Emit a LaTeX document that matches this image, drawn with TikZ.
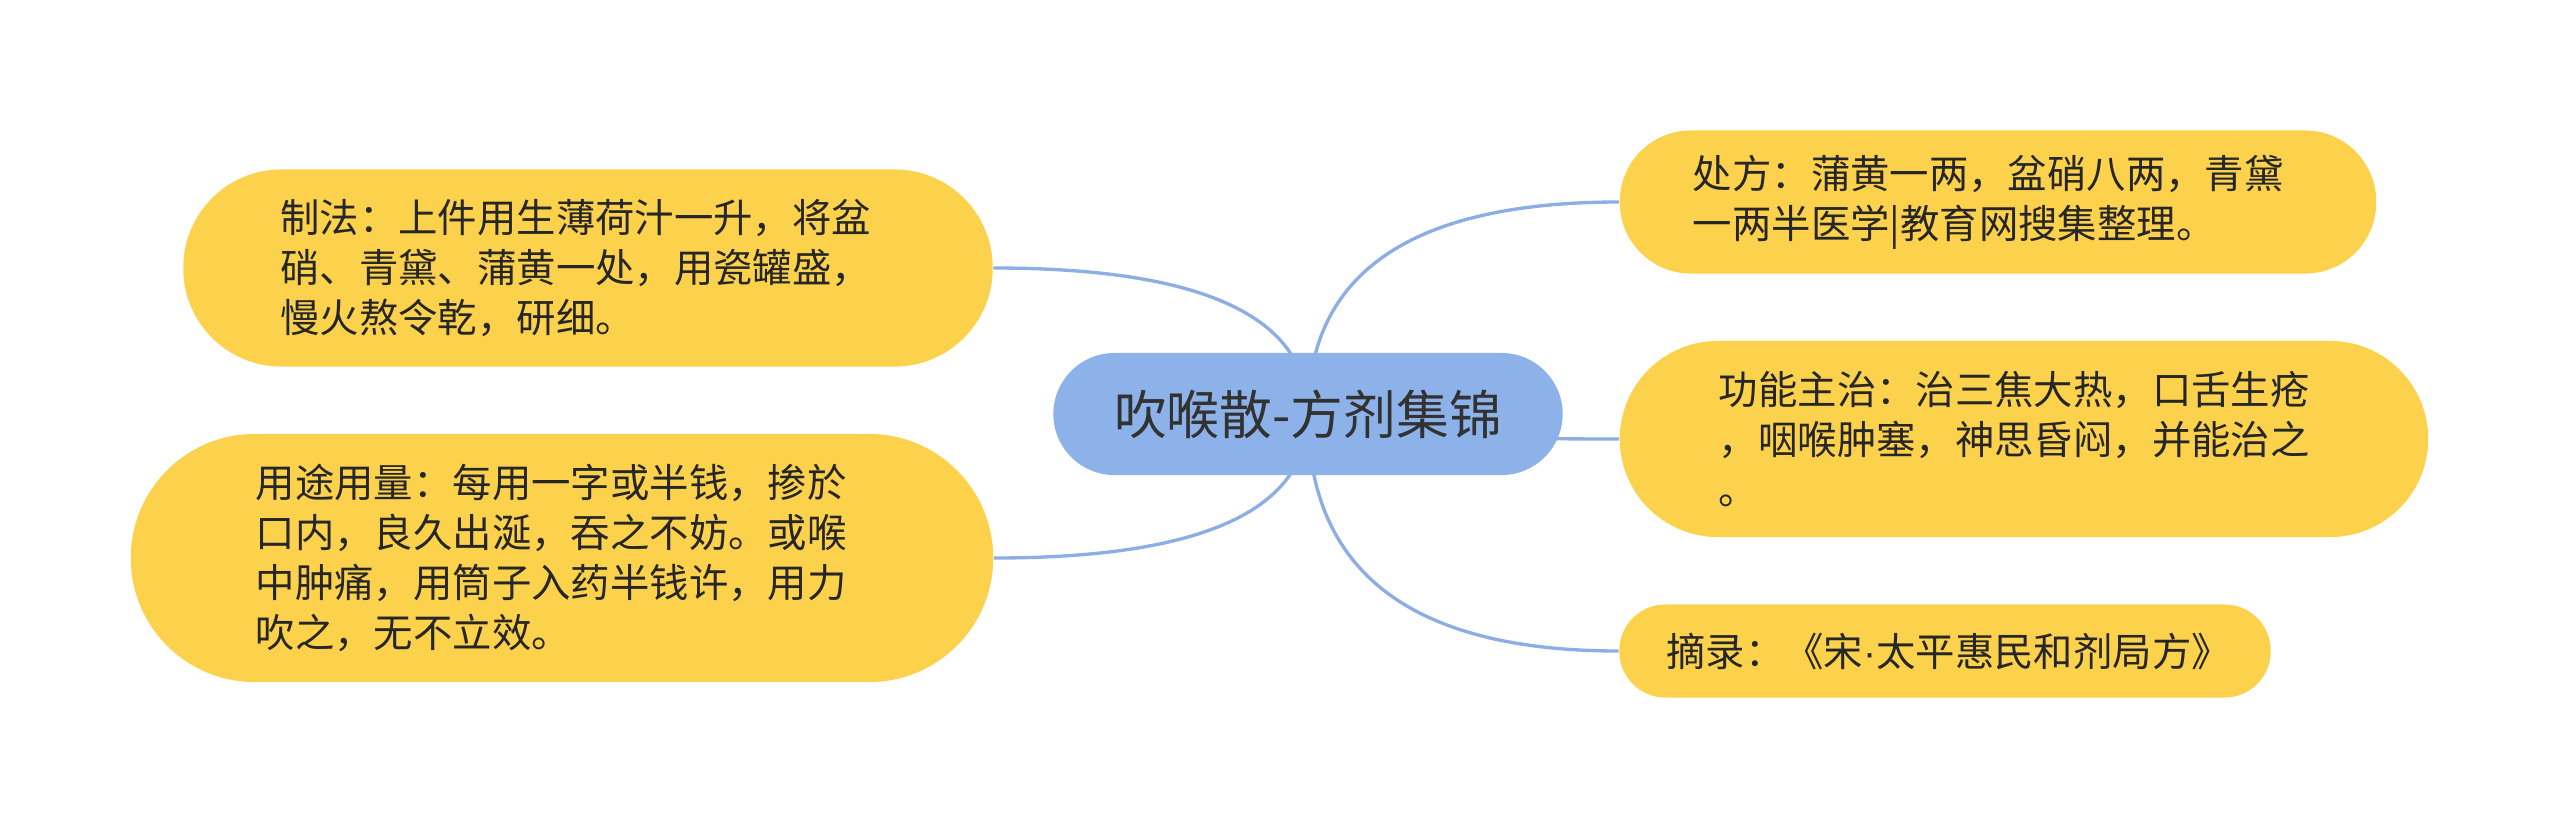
\documentclass[tikz,border=0pt]{standalone}
\usepackage{fontspec}
\newfontfamily\cjk{Noto Sans CJK SC}
\newfontfamily\latinsans{Liberation Sans}
\usepackage{tikz}
\usetikzlibrary{calc}
\definecolor{leafyellow}{RGB}{252,210,77}
\definecolor{coreblue}{RGB}{141,178,234}
\definecolor{linkblue}{RGB}{140,174,228}
\definecolor{inkgray}{RGB}{38,38,38}
\definecolor{titlegray}{RGB}{50,50,50}
\pgfdeclarelayer{paper}
\pgfdeclarelayer{links}
\pgfsetlayers{paper,links,main}

\begin{document}
\begin{tikzpicture}[
  x=0.01cm, y=-0.01cm,
  every node/.style={align=left},
  base/.style  = {fill=leafyellow, text=inkgray, inner ysep=0pt,
                  font=\cjk\fontsize{11.2pt}{14.2pt}\selectfont},
  core/.style  = {base, fill=coreblue, text=titlegray, align=center, inner sep=0pt,
                  minimum width=5.09cm, minimum height=1.22cm, rounded corners=0.61cm,
                  font=\cjk\fontsize{15pt}{18pt}\selectfont},
  link/.style  = {draw=linkblue, line width=0.95pt}
]
\begin{pgfonlayer}{paper}
  \fill[white] (0,0) rectangle (2560,827);
\end{pgfonlayer}
\useasboundingbox (0,0) rectangle (2560,827);

\node[core] (core) at (1308,414) {吹喉散-方剂集锦};

\node[base, inner xsep=0.97cm, text width=6.15cm, minimum height=1.97cm, rounded corners=0.98cm]
  (zhifa) at (588,268)
  {制法：上件用生薄荷汁一升，将盆\\
   硝、青黛、蒲黄一处，用瓷罐盛，\\
   慢火熬令乾，研细。};
\node[base, inner xsep=1.25cm, text width=6.12cm, minimum height=2.48cm, rounded corners=1.24cm]
  (yongtu) at (562,558)
  {用途用量：每用一字或半钱，掺於\\
   口内，良久出涎，吞之不妨。或喉\\
   中肿痛，用筒子入药半钱许，用力\\
   吹之，无不立效。};
\node[base, inner xsep=0.73cm, text width=6.10cm, minimum height=1.43cm, rounded corners=0.71cm]
  (chufang) at (1998,202)
  {处方：蒲黄一两，盆硝八两，青黛\\
   一两半医学|教育网搜集整理。};
\node[base, inner xsep=0.99cm, text width=6.10cm, minimum height=1.96cm, rounded corners=0.98cm]
  (gongneng) at (2024,439)
  {功能主治：治三焦大热，口舌生疮\\
   ，咽喉肿塞，神思昏闷，并能治之\\
   。};
\node[base, inner xsep=0.47cm, text width=5.57cm, minimum height=0.93cm, rounded corners=0.46cm]
  (zhailu) at (1945,651)
  {摘录：《宋{\latinsans ·}太平惠民和剂局方》};

% branches leave the centre and bend into each topic
\begin{pgfonlayer}{links}
  \coordinate (zhifaBend) at (core.center |- zhifa.east);
  \coordinate (yongtuBend) at (core.center |- yongtu.east);
  \coordinate (chufangBend) at (core.center |- chufang.west);
  \coordinate (gongnengBend) at (core.center |- gongneng.west);
  \coordinate (zhailuBend) at (core.center |- zhailu.west);
  \draw[link] (core.center) .. controls ($(core.center)!2/3!(zhifaBend)$)
    and ($(zhifa.east)!2/3!(zhifaBend)$) .. (zhifa.east);
  \draw[link] (core.center) .. controls ($(core.center)!2/3!(yongtuBend)$)
    and ($(yongtu.east)!2/3!(yongtuBend)$) .. (yongtu.east);
  \draw[link] (core.center) .. controls ($(core.center)!2/3!(chufangBend)$)
    and ($(chufang.west)!2/3!(chufangBend)$) .. (chufang.west);
  \draw[link] (core.center) .. controls ($(core.center)!2/3!(gongnengBend)$)
    and ($(gongneng.west)!2/3!(gongnengBend)$) .. (gongneng.west);
  \draw[link] (core.center) .. controls ($(core.center)!2/3!(zhailuBend)$)
    and ($(zhailu.west)!2/3!(zhailuBend)$) .. (zhailu.west);
\end{pgfonlayer}
\end{tikzpicture}
\end{document}
